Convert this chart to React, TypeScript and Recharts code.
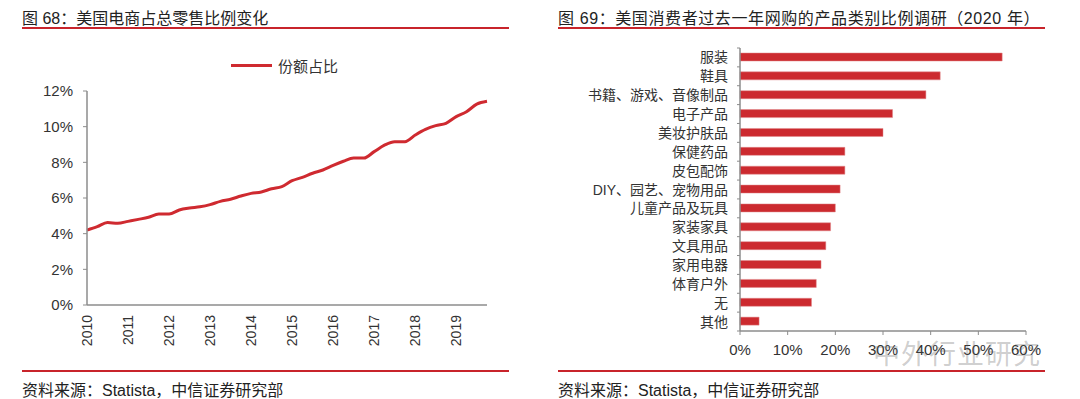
import { LineChart, Line, BarChart, Bar, XAxis, YAxis } from 'recharts';

const FONT = '"Liberation Sans", Arial, "Noto Sans CJK SC", sans-serif';
const RED = '#cf2a30';
const AXIS = '#8c8c8c';
const TEXT = '#333333';

// 图 68
const years = ['2010', '2011', '2012', '2013', '2014', '2015', '2016', '2017', '2018', '2019'];
const quarters = ['Q1', 'Q2', 'Q3', 'Q4'];
const shareValues = [
  4.2, 4.39, 4.62, 4.58, 4.69, 4.8, 4.92, 5.1, 5.1, 5.33,
  5.44, 5.51, 5.63, 5.81, 5.93, 6.11, 6.26, 6.34, 6.52, 6.64,
  6.97, 7.16, 7.39, 7.57, 7.83, 8.06, 8.24, 8.24, 8.6, 8.96,
  9.16, 9.16, 9.53, 9.85, 10.06, 10.19, 10.56, 10.84, 11.26, 11.42,
];
const shareTicks = [0, 2, 4, 6, 8, 10, 12];

// 图 69
const categories = [
  '服装', '鞋具', '书籍、游戏、音像制品', '电子产品', '美妆护肤品', '保健药品', '皮包配饰',
  'DIY、园艺、宠物用品', '儿童产品及玩具', '家装家具', '文具用品', '家用电器', '体育户外', '无', '其他',
];
const categoryValues = [55, 42, 39, 32, 30, 22, 22, 21, 20, 19, 18, 17, 16, 15, 4];
const categoryTicks = [0, 10, 20, 30, 40, 50, 60];

const lineData = years.flatMap((y, yi) =>
  quarters.map((q, qi) => ({ period: `${y}${q}`, share: shareValues[yi * 4 + qi] }))
);
const barData = categories.map((name, i) => ({ name, value: categoryValues[i] }));

function YearTick({ x, y, payload }: any) {
  return (
    <text
      x={x}
      y={y + 2}
      dy="0.36em"
      textAnchor="end"
      transform={`rotate(-90, ${x}, ${y + 2})`}
      fill={TEXT}
      fontSize={14}
      fontFamily={FONT}
    >
      {String(payload.value).slice(0, 4)}
    </text>
  );
}

function CategoryTick({ x, y, payload }: any) {
  const half = payload.offset ?? 9.4;
  return (
    <g>
      <line x1={x - 3} x2={x} y1={y + half} y2={y + half} stroke={AXIS} />
      {payload.index === 0 && <line x1={x - 3} x2={x} y1={y - half} y2={y - half} stroke={AXIS} />}
      <text x={x - 12} y={y} dy="0.36em" textAnchor="end" fill={TEXT} fontSize={14} fontFamily={FONT}>
        {payload.value}
      </text>
    </g>
  );
}

function Frame({ left, title, spacing = 0 }: { left: number; title: string; spacing?: number }) {
  return (
    <>
      <div style={{ position: 'absolute', left: left, top: 5, fontSize: 16, color: '#222', fontFamily: FONT, whiteSpace: 'nowrap', letterSpacing: spacing }}>
        {title}
      </div>
      <div style={{ position: 'absolute', left: left, top: 27, width: 487, height: 2, background: '#c8242b' }} />
      <div style={{ position: 'absolute', left: left, top: 370, width: 487, height: 2, background: '#c8242b' }} />
      <div style={{ position: 'absolute', left: left, top: 377, fontSize: 16, color: '#222', fontFamily: FONT, whiteSpace: 'nowrap' }}>
        资料来源：Statista，中信证券研究部
      </div>
    </>
  );
}

export default function App() {
  return (
    <div style={{ position: 'absolute', left: 0, top: 0, width: 1080, height: 399, background: '#fff', overflow: 'hidden' }}>
      <Frame left={22} title="图 68：美国电商占总零售比例变化" />
      <Frame left={558} title="图 69：美国消费者过去一年网购的产品类别比例调研（2020 年）" spacing={0.6} />

      <div
        style={{
          position: 'absolute',
          left: 231,
          top: 55,
          display: 'flex',
          alignItems: 'center',
          fontFamily: FONT,
          fontSize: 15,
          color: TEXT,
          whiteSpace: 'nowrap',
        }}
      >
        <span style={{ display: 'inline-block', width: 41, height: 3, background: RED, marginRight: 6 }} />
        份额占比
      </div>

      <div style={{ position: 'absolute', left: 0, top: 0 }}>
        <LineChart width={540} height={399} data={lineData} margin={{ top: 91, right: 53, bottom: 54, left: 27 }}>
          <XAxis
            dataKey="period"
            interval={3}
            height={40}
            tickLine={false}
            tickSize={0}
            tickMargin={8}
            tick={<YearTick />}
            axisLine={{ stroke: AXIS, strokeWidth: 1.5 }}
          />
          <YAxis
            width={60}
            domain={[0, 12]}
            ticks={shareTicks}
            tickFormatter={(v) => `${v}%`}
            tickSize={4}
            tickMargin={10}
            tick={{ fill: TEXT, fontSize: 15, fontFamily: FONT }}
            axisLine={{ stroke: AXIS, strokeWidth: 1.5 }}
            tickLine={{ stroke: AXIS }}
          />
          <Line
            type="monotone"
            dataKey="share"
            stroke={RED}
            strokeWidth={3}
            dot={false}
            isAnimationActive={false}
          />
        </LineChart>
      </div>

      <div style={{ position: 'absolute', left: 540, top: 0 }}>
        <BarChart
          width={540}
          height={399}
          data={barData}
          layout="vertical"
          barSize={8}
          margin={{ top: 48, right: 54, bottom: 36, left: 20 }}
        >
          <XAxis
            type="number"
            domain={[0, 60]}
            ticks={categoryTicks}
            tickFormatter={(v) => `${v}%`}
            height={32}
            tickSize={4}
            tickMargin={9}
            tick={{ fill: TEXT, fontSize: 15, fontFamily: FONT }}
            axisLine={{ stroke: AXIS, strokeWidth: 1.5 }}
            tickLine={{ stroke: AXIS }}
          />
          <YAxis
            type="category"
            dataKey="name"
            width={180}
            interval={0}
            tickSize={0}
            tickMargin={0}
            tickLine={false}
            tick={<CategoryTick />}
            axisLine={{ stroke: AXIS, strokeWidth: 1.5 }}
          />
          <Bar dataKey="value" fill="#cc2a2f" stroke="#e0888b" strokeWidth={0.5} isAnimationActive={false} />
        </BarChart>
      </div>

      <div
        style={{
          position: 'absolute',
          left: 873,
          top: 333,
          fontSize: 27,
          fontFamily: '"Noto Sans CJK SC", sans-serif',
          color: 'rgba(90,90,90,0.3)',
          letterSpacing: 1,
          whiteSpace: 'nowrap',
          pointerEvents: 'none',
        }}
      >
        中外行业研究
      </div>
    </div>
  );
}
